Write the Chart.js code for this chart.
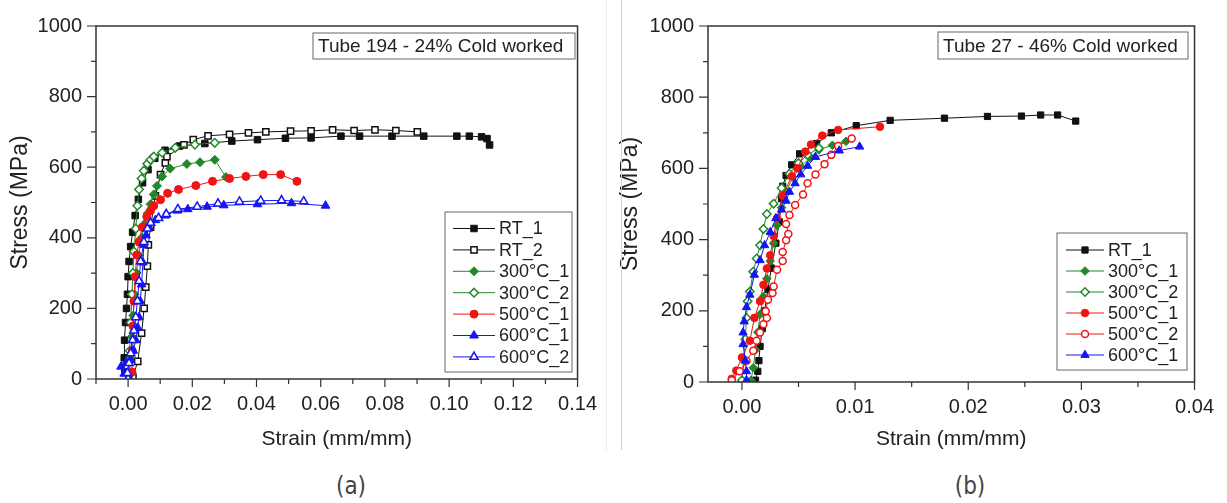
<!DOCTYPE html>
<html>
<head>
<meta charset="utf-8">
<script src="https://cdn.jsdelivr.net/npm/chart.js@4.4.0/dist/chart.umd.min.js"></script>
<style>
  body { margin: 0; background: #fff; width: 1227px; height: 503px; overflow: hidden; position: relative; }
  .panel { position: absolute; top: 0; height: 455px; }
  #wrapA { left: 0; width: 610px; }
  #wrapB { left: 610px; width: 617px; }
  .sep { position: absolute; top: 0; width: 1px; height: 450px; }
  .cap { position: absolute; top: 472px; width: 80px; text-align: center; color: #444;
         font: 24px "Liberation Sans Narrow", "DejaVu Sans Condensed", "Liberation Sans", sans-serif; }
</style>
</head>
<body>
<div class="panel" id="wrapA"><canvas id="chartA"></canvas></div>
<div class="panel" id="wrapB"><canvas id="chartB"></canvas></div>
<div class="sep" style="left:606px;background:#ececec"></div>
<div class="sep" style="left:621px;background:#d4d4d4"></div>
<div class="cap" style="left:311px">(a)</div>
<div class="cap" style="left:930px">(b)</div>

<script>
// ---- (a) Tube 194 - 24% cold worked: [strain, stress MPa]
const aRT1 = [[-0.0010, 20], [-0.0012, 60], [-0.0011, 110], [-0.0008, 160], [-0.0005, 200], [-0.0002, 240],
  [0.0000, 290], [0.0003, 333], [0.0008, 375], [0.0014, 416], [0.0022, 463], [0.0032, 509], [0.0045, 556],
  [0.0062, 593], [0.0083, 625], [0.0115, 648], [0.0160, 660], [0.0239, 667], [0.0323, 674], [0.0403, 678],
  [0.0490, 682], [0.0570, 683], [0.0663, 688], [0.0721, 688], [0.0822, 688], [0.0921, 688], [0.1024, 688],
  [0.1063, 688], [0.1101, 686], [0.1118, 681], [0.1126, 663]];
const aRT2 = [[0.0015, 5], [0.0030, 50], [0.0042, 130], [0.0050, 200], [0.0055, 260], [0.0060, 320], [0.0063, 380],
  [0.0070, 430], [0.0085, 519], [0.0101, 579], [0.0116, 612], [0.0121, 630], [0.0174, 663], [0.0203, 678],
  [0.0249, 689], [0.0316, 693], [0.0375, 697], [0.0429, 700], [0.0506, 702], [0.0570, 703], [0.0637, 706],
  [0.0704, 704], [0.0769, 706], [0.0834, 704], [0.0901, 700]];
const a300C1 = [[0.0003, 10], [0.0008, 60], [0.0012, 120], [0.0016, 180], [0.0020, 240], [0.0026, 300],
  [0.0033, 350], [0.0042, 400], [0.0052, 440], [0.0062, 470], [0.0070, 495], [0.0080, 523], [0.0090, 547],
  [0.0106, 574], [0.0131, 596], [0.0183, 609], [0.0224, 614], [0.0270, 621], [0.0305, 572]];
const a300C2 = [[0.0003, 10], [0.0005, 80], [0.0008, 160], [0.0012, 240], [0.0015, 300], [0.0018, 361],
  [0.0024, 426], [0.0029, 491], [0.0034, 537], [0.0042, 568], [0.0049, 590], [0.0060, 610], [0.0070, 621],
  [0.0080, 630], [0.0106, 641], [0.0147, 655], [0.0208, 664], [0.0270, 669]];
const a500C1 = [[0.0012, 20], [0.0013, 80], [0.0015, 150], [0.0018, 220], [0.0022, 290], [0.0027, 351],
  [0.0034, 388], [0.0044, 430], [0.0058, 460], [0.0070, 477], [0.0080, 491], [0.0101, 508], [0.0123, 526],
  [0.0157, 537], [0.0211, 548], [0.0263, 560], [0.0316, 568], [0.0367, 574], [0.0421, 579], [0.0475, 579],
  [0.0526, 560]];
const a600C1 = [[0.0002, 5], [-0.0012, 15], [-0.0022, 35], [-0.0008, 45], [0.0008, 54], [0.0016, 80],
  [0.0024, 110], [0.0030, 145], [0.0034, 175], [0.0038, 220], [0.0042, 268], [0.0046, 330], [0.0049, 380],
  [0.0056, 407], [0.0066, 430], [0.0085, 450], [0.0116, 463], [0.0154, 477], [0.0186, 481], [0.0246, 488],
  [0.0298, 492], [0.0403, 495], [0.0509, 498], [0.0615, 491]];
const a600C2 = [[0.0000, 0], [-0.0002, 17], [0.0003, 45], [0.0008, 73], [0.0014, 110], [0.0018, 137],
  [0.0024, 175], [0.0029, 221], [0.0034, 277], [0.0039, 333], [0.0049, 388], [0.0060, 426], [0.0070, 442],
  [0.0095, 456], [0.0119, 467], [0.0155, 481], [0.0215, 488], [0.0280, 497], [0.0347, 502], [0.0413, 505],
  [0.0478, 506], [0.0547, 503]];

// ---- (b) Tube 27 - 46% cold worked
const bRT1 = [[0.0012, 5], [0.0014, 30], [0.0015, 60], [0.0016, 100], [0.0018, 150], [0.0020, 200],
  [0.0023, 260], [0.0026, 320], [0.0030, 390], [0.0033, 450], [0.0035, 515], [0.0036, 550], [0.0039, 580],
  [0.0044, 610], [0.0051, 641], [0.0066, 670], [0.0079, 700], [0.0101, 720], [0.0131, 735], [0.0179, 741],
  [0.0217, 746], [0.0247, 747], [0.0264, 750], [0.0279, 750], [0.0295, 733]];
const b300C1 = [[0.0008, 5], [0.0010, 40], [0.0012, 90], [0.0014, 140], [0.0016, 190], [0.0019, 240],
  [0.0022, 290], [0.0025, 340], [0.0028, 390], [0.0031, 440], [0.0035, 490], [0.0039, 535], [0.0045, 575],
  [0.0052, 605], [0.0060, 630], [0.0068, 652], [0.0080, 665], [0.0092, 676]];
const b300C2 = [[0.0000, 5], [0.0002, 60], [0.0003, 120], [0.0004, 180], [0.0005, 227], [0.0007, 254],
  [0.0010, 310], [0.0013, 347], [0.0016, 384], [0.0019, 430], [0.0022, 472], [0.0028, 501], [0.0035, 545],
  [0.0042, 585], [0.0050, 615], [0.0058, 638], [0.0068, 657]];
const b500C1 = [[-0.0009, 9], [-0.0005, 32], [0.0000, 69], [0.0007, 116], [0.0011, 180], [0.0016, 227],
  [0.0019, 273], [0.0022, 319], [0.0025, 356], [0.0028, 410], [0.0031, 460], [0.0036, 523], [0.0044, 578],
  [0.0049, 600], [0.0056, 647], [0.0061, 667], [0.0071, 692], [0.0085, 708], [0.0122, 717]];
const b500C2 = [[-0.0009, 5], [-0.0002, 30], [0.0004, 60], [0.0010, 88], [0.0013, 116], [0.0016, 139],
  [0.0019, 162], [0.0022, 180], [0.0021, 199], [0.0023, 231], [0.0027, 250], [0.0028, 268], [0.0031, 315],
  [0.0036, 340], [0.0036, 365], [0.0039, 398], [0.0041, 416], [0.0039, 444], [0.0042, 469], [0.0047, 497],
  [0.0054, 527], [0.0058, 558], [0.0065, 583], [0.0073, 612], [0.0079, 638], [0.0085, 663], [0.0097, 684]];
const b600C1 = [[0.0004, 5], [0.0004, 30], [0.0003, 60], [0.0001, 106], [0.0001, 139], [0.0002, 170],
  [0.0004, 210], [0.0007, 245], [0.0011, 301], [0.0016, 342], [0.0020, 384], [0.0025, 421], [0.0030, 460],
  [0.0035, 484], [0.0039, 509], [0.0042, 534], [0.0047, 558], [0.0052, 583], [0.0058, 607], [0.0065, 632],
  [0.0086, 650], [0.0104, 661]];

// ticks
const stressTicks = [0, 200, 400, 600, 800, 1000];
const stressMinor = [100, 300, 500, 700, 900];
const aStrainTicks = [0, 0.02, 0.04, 0.06, 0.08, 0.10, 0.12, 0.14];
const aStrainMinor = [-0.01, 0.01, 0.03, 0.05, 0.07, 0.09, 0.11, 0.13];
const bStrainTicks = [0, 0.01, 0.02, 0.03, 0.04];
const bStrainMinor = [0.005, 0.015, 0.025, 0.035];

const BLACK = '#111', GREEN = '#23882a', RED = '#f01414', BLUE = '#1414f5';

Chart.defaults.font.family = '"Liberation Sans", Arial, sans-serif';
Chart.defaults.color = '#222';

function series(label, pts, color, style, open, r) {
  return {
    label: label,
    data: pts.map(p => ({ x: p[0], y: p[1] })),
    showLine: true,
    borderColor: color,
    borderWidth: 1,
    pointStyle: style,
    pointRadius: r,
    pointHoverRadius: r,
    pointBackgroundColor: open ? '#fff' : color,
    pointBorderColor: color,
    pointBorderWidth: open ? 1.5 : 1
  };
}

function marker(ctx, ds, x, y) {
  ctx.fillStyle = ds.pointBackgroundColor;
  ctx.strokeStyle = ds.pointBorderColor;
  ctx.lineWidth = ds.pointBorderWidth;
  Chart.helpers.drawPoint(ctx, { pointStyle: ds.pointStyle, radius: ds.pointRadius,
    borderWidth: ds.pointBorderWidth, rotation: 0 }, x, y);
}

// frame, tick marks, title box and legend box drawn over the plot
const decor = {
  id: 'decor',
  afterDraw(chart, args, o) {
    const { ctx, chartArea: a, scales: { x, y } } = chart;
    ctx.save();
    ctx.strokeStyle = '#333';
    ctx.lineWidth = 1.5;
    ctx.strokeRect(a.left, a.top, a.right - a.left, a.bottom - a.top);

    ctx.lineWidth = 1.2;
    ctx.beginPath();
    o.xMajor.forEach(v => { const p = x.getPixelForValue(v); ctx.moveTo(p, a.bottom); ctx.lineTo(p, a.bottom + 8); });
    o.xMinor.forEach(v => { const p = x.getPixelForValue(v); ctx.moveTo(p, a.bottom); ctx.lineTo(p, a.bottom + 5); });
    stressTicks.forEach(v => { const p = y.getPixelForValue(v); ctx.moveTo(a.left, p); ctx.lineTo(a.left - 9, p); });
    stressMinor.forEach(v => { const p = y.getPixelForValue(v); ctx.moveTo(a.left, p); ctx.lineTo(a.left - 5, p); });
    ctx.stroke();

    // title box
    const t = o.title;
    ctx.fillStyle = '#fff';
    ctx.fillRect(t.x, t.y, t.w, t.h);
    ctx.strokeStyle = '#666';
    ctx.lineWidth = 1;
    ctx.strokeRect(t.x, t.y, t.w, t.h);
    ctx.fillStyle = '#222';
    ctx.font = '19px "Liberation Sans", Arial, sans-serif';
    ctx.textBaseline = 'middle';
    ctx.textAlign = 'left';
    ctx.fillText(t.text, t.x + 5, t.y + t.h / 2 + 1);

    // legend box
    const L = o.legend;
    ctx.fillStyle = '#fff';
    ctx.fillRect(L.x, L.y, L.w, L.h);
    ctx.strokeStyle = '#666';
    ctx.strokeRect(L.x, L.y, L.w, L.h);
    ctx.font = '18px "Liberation Sans", Arial, sans-serif';
    chart.data.datasets.forEach((ds, i) => {
      const ry = L.row0 + i * L.gap;
      ctx.strokeStyle = ds.borderColor;
      ctx.lineWidth = 1;
      ctx.beginPath();
      ctx.moveTo(L.x1, ry);
      ctx.lineTo(L.x2, ry);
      ctx.stroke();
      marker(ctx, ds, (L.x1 + L.x2) / 2, ry);
      ctx.fillStyle = '#222';
      ctx.fillText(ds.label, L.tx, ry + 1);
    });
    ctx.restore();
  }
};

function makeChart(id, datasets, xMin, xMax, xMajor, digits, yWidth, xHeight, padRight, deco) {
  datasets.forEach((ds, i) => { ds.order = -i; });
  return new Chart(document.getElementById(id), {
    type: 'scatter',
    data: { datasets: datasets },
    plugins: [decor],
    options: {
      responsive: true,
      maintainAspectRatio: false,
      animation: false,
      events: [],
      layout: { padding: { left: 0, top: 21, right: padRight, bottom: 0 } },
      plugins: { legend: { display: false }, tooltip: { enabled: false }, decor: deco },
      scales: {
        x: {
          type: 'linear', min: xMin, max: xMax,
          afterBuildTicks: s => { s.ticks = xMajor.map(v => ({ value: v })); },
          afterFit: s => { s.height = xHeight; },
          grid: { display: true, drawOnChartArea: false, drawTicks: false },
          border: { display: false },
          ticks: { autoSkip: false, maxRotation: 0, padding: 13, font: { size: 20 },
                   callback: v => v.toFixed(digits) },
          title: { display: true, text: 'Strain (mm/mm)', font: { size: 21 }, padding: { top: 4, bottom: 3 } }
        },
        y: {
          type: 'linear', min: 0, max: 1000,
          afterBuildTicks: s => { s.ticks = stressTicks.map(v => ({ value: v })); },
          afterFit: s => { s.width = yWidth; },
          grid: { display: true, drawOnChartArea: false, drawTicks: false },
          border: { display: false },
          ticks: { autoSkip: false, padding: 14, font: { size: 20 }, callback: v => String(v) },
          title: { display: true, text: 'Stress (MPa)', font: { size: 23 }, padding: { top: 7, bottom: 4 } }
        }
      }
    }
  });
}

makeChart('chartA', [
  series('RT_1', aRT1, BLACK, 'rect', false, 4.6),
  series('RT_2', aRT2, BLACK, 'rect', true, 4.4),
  series('300°C_1', a300C1, GREEN, 'rectRot', false, 4.5),
  series('300°C_2', a300C2, GREEN, 'rectRot', true, 4.3),
  series('500°C_1', a500C1, RED, 'circle', false, 4),
  series('600°C_1', a600C1, BLUE, 'triangle', false, 5),
  series('600°C_2', a600C2, BLUE, 'triangle', true, 4.8)
], -0.01, 0.14, aStrainTicks, 2, 96, 76, 27, {
  xMajor: aStrainTicks, xMinor: aStrainMinor,
  title: { x: 313, y: 33, w: 262, h: 26, text: 'Tube 194 - 24% Cold worked' },
  legend: { x: 445, y: 212, w: 127, h: 160, row0: 228.5, gap: 21.4, x1: 453, x2: 495, tx: 499 }
});

makeChart('chartB', [
  series('RT_1', bRT1, BLACK, 'rect', false, 4.4),
  series('300°C_1', b300C1, GREEN, 'rectRot', false, 4.3),
  series('300°C_2', b300C2, GREEN, 'rectRot', true, 4.2),
  series('500°C_1', b500C1, RED, 'circle', false, 3.8),
  series('500°C_2', b500C2, RED, 'circle', true, 3.5),
  series('600°C_1', b600C1, BLUE, 'triangle', false, 4.8)
], -0.003, 0.04, bStrainTicks, 2, 98, 73, 29, {
  xMajor: bStrainTicks, xMinor: bStrainMinor,
  title: { x: 328, y: 32, w: 250, h: 27, text: 'Tube 27 - 46% Cold worked' },
  legend: { x: 447, y: 233, w: 130, h: 137, row0: 250, gap: 21, x1: 456, x2: 494, tx: 498 }
});
</script>
</body>
</html>
